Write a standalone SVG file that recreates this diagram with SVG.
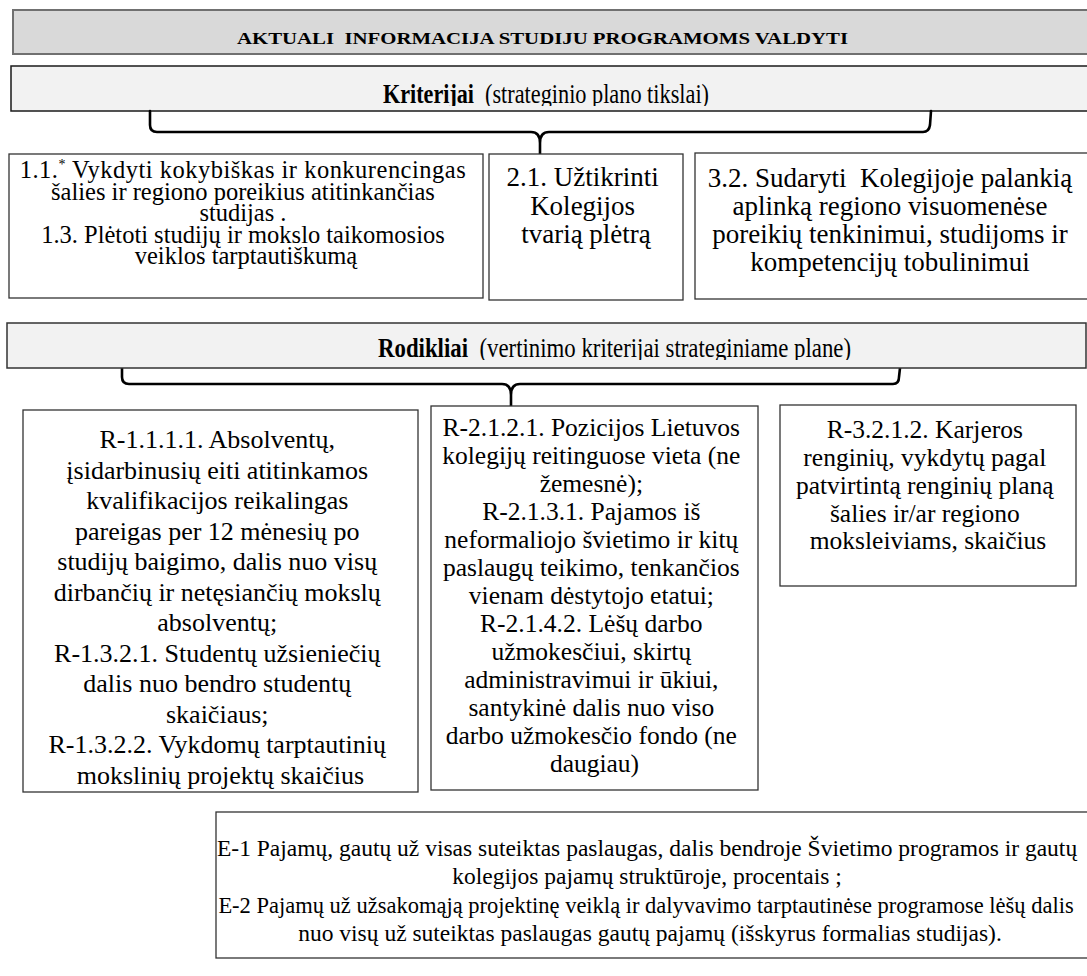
<svg xmlns="http://www.w3.org/2000/svg" width="1087" height="976" viewBox="0 0 1087 976">
<style>
.t{font-family:"Liberation Serif","Times New Roman",serif;fill:#000;text-anchor:middle}
.s{font-family:"Liberation Serif","Times New Roman",serif;fill:#000;text-anchor:start}
.box{fill:#fff;stroke:#333;stroke-width:1.3}
.brace{fill:none;stroke:#000;stroke-width:2.6;stroke-linejoin:round;stroke-linecap:round}
</style>
<defs>
<clipPath id="clipK"><rect x="0" y="66" width="1087" height="40"/></clipPath>
<clipPath id="clipR"><rect x="0" y="323" width="1087" height="37"/></clipPath>
</defs>

<g id="header">
<rect x="13" y="10" width="1085" height="44" fill="#d9d9d9" stroke="#707070" stroke-width="2"/>
<text class="t" x="542.5" y="44" font-size="17" font-weight="bold" textLength="611" lengthAdjust="spacingAndGlyphs" xml:space="preserve">AKTUALI  INFORMACIJA STUDIJU PROGRAMOMS VALDYTI</text>
</g>

<g id="kriterijai">
<rect x="11" y="66" width="1085" height="45" fill="#f2f2f2" stroke="#1a1a1a" stroke-width="1.5"/>
<g clip-path="url(#clipK)">
<text class="s" x="383" y="103" font-size="28" font-weight="bold" textLength="91" lengthAdjust="spacingAndGlyphs">Kriterijai</text>
<text class="s" x="485" y="103" font-size="28" textLength="224" lengthAdjust="spacingAndGlyphs">(strateginio plano tikslai)</text>
</g>
</g>

<g id="connectors">
<path class="brace" d="M150,111 L150,125 Q150,132 157,132 L531,132 Q540,132 540,143 L540,154 M540,143 Q540,132 549,132 L923,132 Q929,132 930,125 L931,111"/>
<path class="brace" d="M122,368 L122,377 Q122,384 129,384 L502,384 Q511,384 511,395 L511,406 M511,395 Q511,384 520,384 L893,384 Q899,384 899,377 L900,368"/>
</g>

<g id="k1">
<rect class="box" x="9" y="154" width="474" height="144"/>
<text class="t" font-size="24.5">
<tspan x="246" y="178" textLength="446" lengthAdjust="spacing">1.1.<tspan font-size="14" dy="-9" fill="#000">*</tspan><tspan dy="9"> Vykdyti kokybiškas ir konkurencingas</tspan></tspan>
<tspan x="246" y="199.5">šalies ir regiono poreikius atitinkančias</tspan>
<tspan x="246" y="221">studijas .</tspan>
<tspan x="246" y="242.5">1.3. Plėtoti studijų ir mokslo taikomosios</tspan>
<tspan x="246" y="264">veiklos tarptautiškumą</tspan>
</text>
</g>

<g id="k2">
<rect class="box" x="489" y="154" width="194" height="146"/>
<text class="t" font-size="27">
<tspan x="586" y="186">2.1. Užtikrinti</tspan>
<tspan x="586" y="214.5">Kolegijos</tspan>
<tspan x="586" y="243">tvarią plėtrą</tspan>
</text>
</g>

<g id="k3">
<rect class="box" x="695" y="153" width="400" height="146"/>
<text class="t" font-size="27" xml:space="preserve"><tspan x="890" y="187">3.2. Sudaryti  Kolegijoje palankią</tspan><tspan x="890" y="215">aplinką regiono visuomenėse</tspan><tspan x="890" y="243">poreikių tenkinimui, studijoms ir</tspan><tspan x="890" y="271">kompetencijų tobulinimui</tspan></text>
</g>

<g id="rodikliai">
<rect x="7" y="323" width="1079" height="45" fill="#f2f2f2" stroke="#333" stroke-width="1.5"/>
<g clip-path="url(#clipR)">
<text class="s" x="378" y="357" font-size="28" font-weight="bold" textLength="90" lengthAdjust="spacingAndGlyphs">Rodikliai</text>
<text class="s" x="479.5" y="357" font-size="28" textLength="371.5" lengthAdjust="spacingAndGlyphs">(vertinimo kriterijai strateginiame plane)</text>
</g>
</g>

<g id="r1">
<rect class="box" x="23" y="410" width="395" height="382"/>
<text class="t" font-size="26">
<tspan x="220.5" y="448">R-1.1.1.1. Absolventų,</tspan>
<tspan x="220.5" y="478.5">įsidarbinusių eiti atitinkamos</tspan>
<tspan x="220.5" y="509">kvalifikacijos reikalingas</tspan>
<tspan x="220.5" y="539.5">pareigas per 12 mėnesių po</tspan>
<tspan x="220.5" y="570">studijų baigimo, dalis nuo visų</tspan>
<tspan x="220.5" y="600.5">dirbančių ir netęsiančių mokslų</tspan>
<tspan x="220.5" y="631">absolventų;</tspan>
<tspan x="220.5" y="661.5">R-1.3.2.1. Studentų užsieniečių</tspan>
<tspan x="220.5" y="692">dalis nuo bendro studentų</tspan>
<tspan x="220.5" y="722.5">skaičiaus;</tspan>
<tspan x="220.5" y="753">R-1.3.2.2. Vykdomų tarptautinių</tspan>
<tspan x="220.5" y="783.5">mokslinių projektų skaičius</tspan>
</text>
</g>

<g id="r2">
<rect class="box" x="431" y="406" width="327" height="384"/>
<text class="t" font-size="25.5">
<tspan x="594.5" y="436">R-2.1.2.1. Pozicijos Lietuvos</tspan>
<tspan x="594.5" y="464">kolegijų reitinguose vieta (ne</tspan>
<tspan x="594.5" y="492">žemesnė);</tspan>
<tspan x="594.5" y="520">R-2.1.3.1. Pajamos iš</tspan>
<tspan x="594.5" y="548">neformaliojo švietimo ir kitų</tspan>
<tspan x="594.5" y="576">paslaugų teikimo, tenkančios</tspan>
<tspan x="594.5" y="604">vienam dėstytojo etatui;</tspan>
<tspan x="594.5" y="632">R-2.1.4.2. Lėšų darbo</tspan>
<tspan x="594.5" y="660">užmokesčiui, skirtų</tspan>
<tspan x="594.5" y="688">administravimui ir ūkiui,</tspan>
<tspan x="594.5" y="716">santykinė dalis nuo viso</tspan>
<tspan x="594.5" y="744">darbo užmokesčio fondo (ne</tspan>
<tspan x="594.5" y="772">daugiau)</tspan>
</text>
</g>

<g id="r3">
<rect class="box" x="780" y="405" width="296" height="181"/>
<text class="t" font-size="25.5">
<tspan x="928" y="438">R-3.2.1.2. Karjeros</tspan>
<tspan x="928" y="466">renginių, vykdytų pagal</tspan>
<tspan x="928" y="494">patvirtintą renginių planą</tspan>
<tspan x="928" y="522">šalies ir/ar regiono</tspan>
<tspan x="928" y="549">moksleiviams, skaičius</tspan>
</text>
</g>

<g id="e">
<rect class="box" x="216" y="812" width="880" height="146"/>
<text class="t" font-size="23.5">
<tspan x="650" y="855.5">E-1 Pajamų, gautų už visas suteiktas paslaugas, dalis bendroje Švietimo programos ir gautų</tspan>
<tspan x="650" y="884">kolegijos pajamų struktūroje, procentais ;</tspan>
<tspan x="649" y="912.5" font-size="22.5">E-2 Pajamų už užsakomąją projektinę veiklą ir dalyvavimo tarptautinėse programose lėšų dalis</tspan>
<tspan x="650" y="941">nuo visų už suteiktas paslaugas gautų pajamų (išskyrus formalias studijas).</tspan>
</text>
</g>
</svg>
